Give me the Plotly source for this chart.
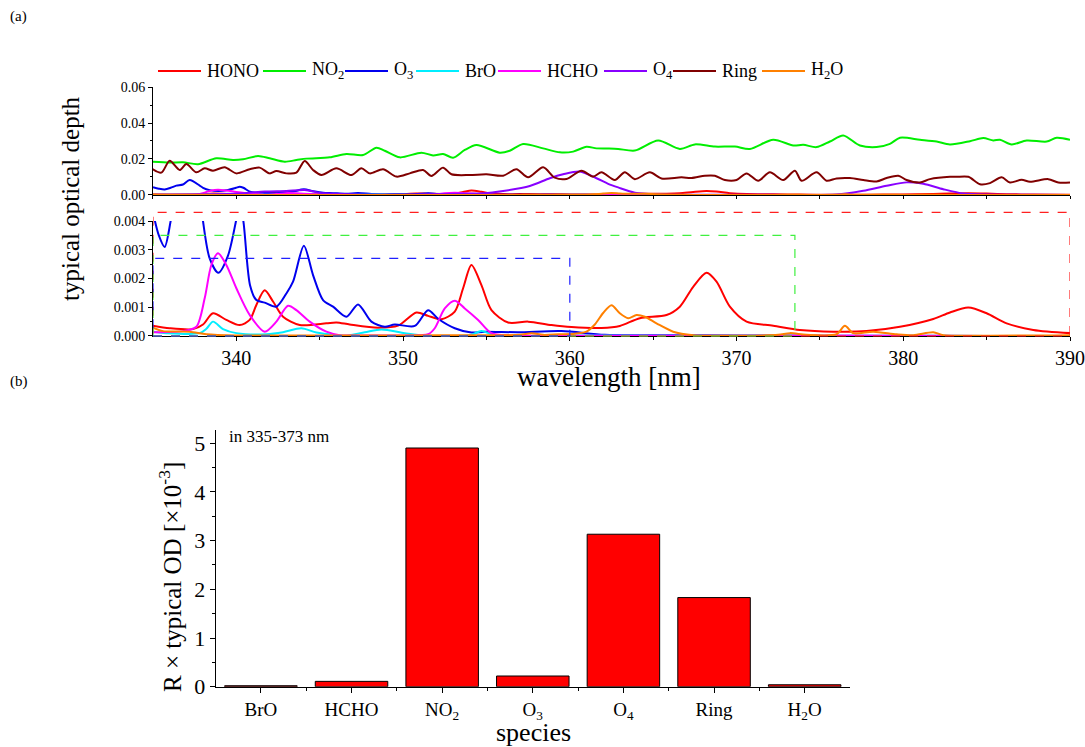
import plotly.graph_objects as go

FONT = "Liberation Serif"
W, H = 1085, 747

# ---- (a) typical optical depths of the fitted absorbers ----
hono_wl = [335.0, 336.0, 337.4, 338.0, 338.6, 339.4, 340.2, 340.8, 341.2, 341.7, 342.2, 342.8, 343.8,
           345.4, 346.0, 346.8, 348.5, 349.7, 350.8, 351.5, 352.3, 353.1, 353.6, 354.1, 354.7, 355.3,
           356.3, 357.5, 358.9, 360.1, 361.9, 363.0, 364.2, 365.8, 366.6, 367.4, 368.2, 368.8, 369.6,
           370.6, 372.2, 373.8, 375.8, 377.8, 379.8, 381.8, 382.8, 383.9, 385.0, 386.2, 387.8, 390.0]
hono_od = [0.00036, 0.00027, 0.00024, 0.0004, 0.00079, 0.00056, 0.00038, 0.00056, 0.00108, 0.00159,
           0.0012, 0.00067, 0.00038, 0.00044, 0.00047, 0.0004, 0.00029, 0.00036, 0.00082, 0.0007,
           0.00058, 0.00085, 0.00166, 0.00247, 0.00177, 0.0009, 0.00047, 0.0005, 0.00038, 0.00031,
           0.00028, 0.00035, 0.00062, 0.00073, 0.00102, 0.00171, 0.0022, 0.00189, 0.00102, 0.0005,
           0.00036, 0.00021, 0.00015, 0.00017, 0.00032, 0.00059, 0.00082, 0.00099, 0.00079, 0.00044,
           0.00021, 0.0001]

no2_wl = [334.9, 336.0, 336.8, 337.7, 338.8, 339.8, 340.4, 341.3, 342.0, 342.9, 343.6, 344.2, 345.6,
          346.6, 347.6, 348.4, 348.9, 349.8, 351.1, 351.8, 352.4, 353.0, 353.7, 354.4, 355.8, 356.4,
          357.2, 358.4, 359.4, 360.2, 361.0, 361.6, 362.3, 362.9, 363.9, 365.3, 366.6, 367.5, 368.7,
          369.9, 370.8, 372.2, 373.4, 374.0, 374.8, 375.6, 376.4, 377.4, 378.4, 379.2, 379.8, 381.0,
          382.0, 382.8, 384.0, 384.8, 385.4, 385.8, 386.5, 387.4, 388.6, 389.2, 390.0]
no2_od = [0.0185, 0.018, 0.0182, 0.0171, 0.0204, 0.0194, 0.0198, 0.0217, 0.0204, 0.0185, 0.0194,
          0.0202, 0.0209, 0.0228, 0.0222, 0.0263, 0.0246, 0.0209, 0.0235, 0.022, 0.0228, 0.0207,
          0.025, 0.0278, 0.0235, 0.0246, 0.0283, 0.0259, 0.0237, 0.0241, 0.0268, 0.0259, 0.0258,
          0.0256, 0.0247, 0.0303, 0.0256, 0.0281, 0.0269, 0.0269, 0.0256, 0.0307, 0.0275, 0.0279,
          0.0266, 0.0297, 0.0331, 0.0275, 0.0266, 0.0284, 0.0318, 0.0307, 0.0297, 0.0281, 0.0299,
          0.0316, 0.0303, 0.0307, 0.0281, 0.0303, 0.0297, 0.0318, 0.0307]

o3_wl = [335.0, 335.35, 335.7, 336.06, 336.4, 336.8, 337.2, 337.8, 338.0, 338.4, 338.92, 339.5, 339.98,
         340.2, 340.42, 340.82, 341.2, 341.7, 342.4, 343.0, 343.4, 344.05, 344.6, 345.2, 345.8, 346.6,
         347.3, 348.1, 348.9, 349.5, 350.7, 351.5, 352.1, 353.1, 354.1, 354.9, 356.9, 359.5, 362.1,
         366.0, 370.0, 375.0, 380.0, 385.0, 390.0]
o3_od = [0.0043, 0.0035, 0.0031, 0.004, 0.0052, 0.0058, 0.0083, 0.0052, 0.004, 0.0027, 0.0022, 0.0028,
         0.004, 0.0046, 0.004, 0.00177, 0.00125, 0.00116, 0.00102, 0.00148, 0.00189, 0.00314, 0.00212,
         0.00125, 0.00102, 0.00067, 0.0011, 0.0005, 0.00032, 0.0004, 0.00035, 0.0009, 0.0006, 0.00027,
         0.00012, 0.00015, 0.00013, 0.00017, 0.00004, 0.00003, 0.00002, 0.00001, 0.00001, 0.0, 0.0]

bro_wl = [335.0, 335.8, 337.8, 338.2, 338.6, 339.2, 340.0, 341.8, 342.8, 343.9, 344.8, 346.0, 346.5,
          347.7, 348.7, 350.1, 351.3, 354.0, 354.7, 355.5, 360.0, 365.0, 370.0, 375.0, 380.0, 385.0, 390.0]
bro_od = [0.00015, 0.0001, 0.0001, 0.00025, 0.0005, 0.00024, 0.0001, 0.00006, 0.00013, 0.00027, 0.00012,
          0.00003, 0.00001, 0.00013, 0.00023, 0.0001, 0.00001, 0.00003, 0.00017, 0.00003, 0.00002,
          0.00001, 0.00001, 0.0, 0.0, 0.0, 0.0]

hcho_wl = [335.0, 336.8, 337.6, 338.1, 338.5, 338.9, 339.4, 340.0, 340.8, 341.7, 342.4, 343.1, 343.6,
           344.4, 345.4, 346.2, 348.0, 350.0, 351.5, 351.9, 352.5, 353.1, 353.7, 354.5, 355.3, 356.5,
           360.0, 365.0, 370.0, 375.0, 380.0, 385.0, 390.0]
hcho_od = [0.00013, 0.00017, 0.00032, 0.00131, 0.00247, 0.00288, 0.00247, 0.00166, 0.00073, 0.00015,
           0.0005, 0.00105, 0.0009, 0.0005, 0.00015, 0.00003, 0.00002, 0.00002, 0.00006, 0.00027,
           0.00096, 0.00123, 0.00096, 0.00056, 0.0001, 0.00002, 0.00001, 0.00001, 0.00001, 0.00001,
           0.0, 0.0, 0.0]

o4_wl = [335.0, 337.0, 338.8, 340.5, 341.7, 343.0, 344.1, 345.2, 347.2, 348.8, 351.0, 352.8, 354.8,
         356.0, 357.6, 358.8, 359.6, 360.6, 361.6, 362.3, 362.9, 363.9, 365.5, 368.0, 372.0, 376.0,
         377.6, 379.0, 380.2, 381.2, 382.4, 383.6, 385.0, 387.0, 390.0]
o4_od = [0.0, 0.0002, 0.0005, 0.001, 0.0019, 0.0022, 0.0028, 0.0009, 0.0003, 0.0001, 0.0003, 0.0006,
         0.0009, 0.0022, 0.005, 0.0093, 0.0115, 0.013, 0.0093, 0.0062, 0.0042, 0.0013, 0.0002, 0.0001,
         0.0001, 0.0002, 0.0023, 0.0051, 0.007, 0.0062, 0.0032, 0.0008, 0.0002, 0.0001, 0.0]

ring_wl = [334.9, 335.5, 336.0, 336.6, 337.0, 337.6, 338.1, 338.6, 339.3, 340.0, 340.8, 341.4, 342.0,
           342.4, 343.0, 343.6, 344.1, 344.6, 345.1, 346.0, 346.9, 347.5, 348.0, 348.8, 349.6, 350.4,
           351.2, 351.7, 352.4, 352.9, 354.0, 355.0, 356.0, 356.8, 357.5, 358.4, 359.1, 359.8, 360.7,
           361.4, 361.9, 362.7, 363.3, 363.9, 364.8, 365.5, 366.7, 367.3, 368.1, 368.7, 369.3, 370.0,
           370.6, 371.3, 372.0, 372.8, 373.5, 373.9, 374.8, 375.4, 376.0, 376.8, 377.6, 378.4, 379.0,
           379.7, 380.2, 381.0, 381.6, 382.8, 383.2, 383.9, 384.6, 385.2, 385.9, 386.4, 387.1, 387.6,
           388.7, 389.3, 390.0]
ring_od = [0.0148, 0.0124, 0.019, 0.0139, 0.0172, 0.0126, 0.0148, 0.0135, 0.0154, 0.012, 0.0143, 0.0152,
           0.012, 0.0133, 0.012, 0.0124, 0.0189, 0.0139, 0.0111, 0.0148, 0.0111, 0.0148, 0.012, 0.0143,
           0.0102, 0.012, 0.0139, 0.0106, 0.0152, 0.0115, 0.0111, 0.0115, 0.0107, 0.0143, 0.0098, 0.0154,
           0.0096, 0.0089, 0.0135, 0.0102, 0.0126, 0.0083, 0.0126, 0.0088, 0.0126, 0.0092, 0.0098, 0.0094,
           0.0107, 0.0107, 0.0083, 0.0083, 0.012, 0.0079, 0.0126, 0.0083, 0.0135, 0.0079, 0.0126, 0.0079,
           0.0092, 0.0094, 0.0083, 0.0075, 0.0094, 0.0107, 0.0083, 0.0069, 0.0088, 0.0101, 0.0101, 0.0101,
           0.006, 0.0066, 0.0098, 0.0069, 0.0084, 0.0073, 0.0088, 0.0069, 0.0069]

h2o_wl = [335.0, 335.6, 337.2, 338.2, 340.0, 345.0, 350.0, 355.0, 357.0, 357.7, 358.4, 359.3, 360.3,
          361.0, 361.5, 362.0, 362.5, 363.0, 363.5, 364.0, 364.5, 365.2, 366.2, 367.4, 370.2, 372.5,
          373.2, 374.2, 376.0, 376.5, 377.0, 378.2, 379.6, 380.6, 381.8, 382.4, 385.0, 390.0]
h2o_od = [0.00029, 0.00017, 0.00015, 0.00006, 0.00002, 0.00002, 0.00002, 0.00003, 0.00004, 0.0001,
          0.00004, 0.00006, 0.00008, 0.00015, 0.0004, 0.0008, 0.00107, 0.00079, 0.00062, 0.00073,
          0.00067, 0.00044, 0.00015, 0.00003, 0.00001, 0.00004, 0.0001, 0.00004, 0.00006, 0.00036,
          0.0001, 0.00015, 0.00006, 0.00003, 0.00013, 0.00003, 0.00001, 0.00003]

# fit windows marked in the zoomed panel: (upper wavelength, box height)
window_hi = [390.0, 373.5, 360.0]
window_top = [0.0043, 0.0035, 0.0027]
window_col = ["#ff2020", "#40f040", "#2020ff"]

# ---- (b) residual x typical OD in 335-373 nm ----
species = ["BrO", "HCHO", "NO2", "O3", "O4", "Ring", "H2O"]
species_labels = ["BrO", "HCHO", "NO<sub>2</sub>", "O<sub>3</sub>", "O<sub>4</sub>", "Ring", "H<sub>2</sub>O"]
r_od = [0.02, 0.11, 4.9, 0.22, 3.13, 1.83, 0.04]

series = [
    ("HONO", hono_wl, hono_od, "#ff0000", True),
    ("NO<sub>2</sub>", no2_wl, no2_od, "#00ee00", False),
    ("O<sub>3</sub>", o3_wl, o3_od, "#0000ee", True),
    ("BrO", bro_wl, bro_od, "#00eeff", True),
    ("HCHO", hcho_wl, hcho_od, "#ff00ff", True),
    ("O<sub>4</sub>", o4_wl, o4_od, "#8800ff", False),
    ("Ring", ring_wl, ring_od, "#800000", False),
    ("H<sub>2</sub>O", h2o_wl, h2o_od, "#ff8000", True),
]

# left edge (px) of each legend key line, legend row centre (px)
legend_left = [158, 263, 345, 416, 498, 604, 673, 762]
legend_row = 71

fig = go.Figure()

for name, wl, od, col, zoomed in series:
    fig.add_trace(go.Scatter(x=wl, y=od, name=name, mode="lines",
                             line=dict(color=col, width=2, shape="spline", smoothing=0.8),
                             xaxis="x", yaxis="y", showlegend=False))
for name, wl, od, col, zoomed in series:
    if zoomed:
        fig.add_trace(go.Scatter(x=wl, y=od, name=name, mode="lines",
                                 line=dict(color=col, width=2, shape="spline", smoothing=0.8),
                                 xaxis="x2", yaxis="y2", showlegend=False))

fig.add_trace(go.Bar(x=list(range(len(species))), y=r_od, width=0.8,
                     marker=dict(color="#ff0000", line=dict(color="#000000", width=1)),
                     xaxis="x3", yaxis="y3", showlegend=False))

# dashed fit-window boxes
for hi, top, col in zip(window_hi, window_top, window_col):
    fig.add_shape(type="rect", xref="x2", yref="y2 domain", x0=335.0, x1=hi,
                  y0=0, y1=top / 0.004, line=dict(color=col, width=1.2, dash="dash"),
                  fillcolor="rgba(0,0,0,0)", layer="above")

# legend row: key line + label for every species
ly = 1 - legend_row / H
for (name, wl, od, col, zoomed), left in zip(series, legend_left):
    fig.add_shape(type="line", xref="paper", yref="paper", x0=left / W, x1=(left + 43) / W,
                  y0=ly, y1=ly, line=dict(color=col, width=2))
    fig.add_annotation(text=name, xref="paper", yref="paper", x=(left + 47) / W, y=ly,
                       xanchor="left", yanchor="middle", showarrow=False,
                       font=dict(family=FONT, size=18, color="black"))

axis_common = dict(showline=True, linecolor="black", linewidth=1, showgrid=False, zeroline=False,
                   ticks="outside", tickcolor="black", automargin=False, ticklabeloverflow="allow")

fig.update_layout(
    width=W, height=H, margin=dict(l=0, r=0, t=0, b=0),
    paper_bgcolor="white", plot_bgcolor="white",
    font=dict(family=FONT, color="black"),
    showlegend=False,
    xaxis=dict(axis_common, domain=[0.141, 0.9862], range=[335, 390.001], dtick=5, tick0=335,
               showticklabels=False, ticklen=3, anchor="y"),
    yaxis=dict(axis_common, domain=[0.739, 0.8835], range=[0, 0.06], dtick=0.02, tickformat=".2f",
               ticklen=4, tickfont=dict(family=FONT, size=14, color="black"), anchor="x",
               minor=dict(dtick=0.01, ticks="outside", ticklen=2, tickcolor="black")),
    xaxis2=dict(axis_common, domain=[0.141, 0.9862], range=[335, 390.001],
                tickvals=[340, 350, 360, 370, 380, 390],
                ticklen=4, tickfont=dict(family=FONT, size=20, color="black"), anchor="y2",
                minor=dict(tickvals=[345, 355, 365, 375, 385], ticks="outside", ticklen=3,
                           tickcolor="black")),
    yaxis2=dict(axis_common, domain=[0.5502, 0.7041], range=[0, 0.004], dtick=0.001, tickformat=".3f",
                ticklen=4, tickfont=dict(family=FONT, size=14, color="black"), anchor="x2",
                minor=dict(dtick=0.0005, ticks="outside", ticklen=2, tickcolor="black")),
    xaxis3=dict(axis_common, domain=[0.1987, 0.7834], range=[-0.5, 6.5],
                tickvals=list(range(len(species))), ticktext=species_labels, ticklen=5,
                tickfont=dict(family=FONT, size=19, color="black"), anchor="y3",
                minor=dict(tickvals=[i + 0.5 for i in range(len(species) - 1)], ticks="outside",
                           ticklen=3, tickcolor="black")),
    yaxis3=dict(axis_common, domain=[0.0807, 0.4244], range=[0, 5.27], dtick=1, ticklen=5,
                tickfont=dict(family=FONT, size=22, color="black"), anchor="x3",
                minor=dict(dtick=0.5, ticks="outside", ticklen=3, tickcolor="black")),
)

annotations = [
    dict(text="(a)", x=8 / W, y=1 - 17 / H, xanchor="left", size=15),
    dict(text="(b)", x=8 / W, y=1 - 381 / H, xanchor="left", size=15),
    dict(text="typical optical depth", x=70 / W, y=1 - 199 / H, textangle=-90, xanchor="center", size=25),
    dict(text="wavelength [nm]", x=609 / W, y=1 - 377 / H, xanchor="center", size=27),
    dict(text="species", x=533 / W, y=1 - 732 / H, xanchor="center", size=26),
    dict(text="R × typical OD [×10<sup>-3</sup>]", x=170 / W, y=1 - 577 / H, textangle=-90,
         xanchor="center", size=25),
    dict(text="in 335-373 nm", x=227 / W, y=1 - 437 / H, xanchor="left", size=17),
]
for a in annotations:
    size = a.pop("size")
    fig.add_annotation(xref="paper", yref="paper", showarrow=False, yanchor="middle",
                       font=dict(family=FONT, color="black", size=size), **a)

fig.write_html("out.html")
